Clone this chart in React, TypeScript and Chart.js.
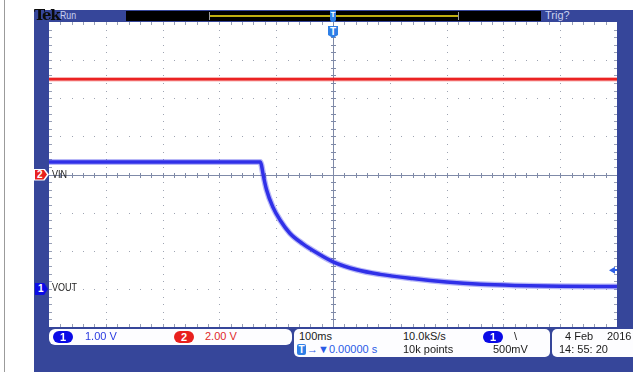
import React, { useEffect, useRef } from "react";
import { Chart, registerables } from "chart.js";

Chart.register(...registerables);

// ---- Data ----
// Channel 2 (VIN): 2.00 V/div, ground at centre line
const vinTimeMs = [-500, 500];
const vinVolts = [5.0, 5.0];
// Channel 1 (VOUT): 1.00 V/div, ground 3 div below centre
const voutTimeMs = [-500, -300, -128, -126, -123, -117, -106, -93, -76, -53, -28, 0, 42, 83, 140, 200, 260, 320, 400, 500];
const voutVolts = [3.33, 3.33, 3.33, 3.25, 3.0, 2.6, 2.15, 1.8, 1.46, 1.18, 0.94, 0.71, 0.5, 0.38, 0.27, 0.18, 0.12, 0.09, 0.07, 0.06];

const CH1_VOLTS_PER_DIV = 1.0;
const CH1_OFFSET_DIV = -3;
const CH2_VOLTS_PER_DIV = 2.0;
const CH2_OFFSET_DIV = 0;
const TRIGGER_LEVEL_V = 0.5;

const TIME_MIN = -500;
const TIME_MAX = 500;
const DIV_MIN = -4;
const DIV_MAX = 4;

// Status / readout texts
const topLeftLabel = "Run";
const topRightLabel = "Trig?";
const ch1Scale = "1.00 V";
const ch2Scale = "2.00 V";
const timeBase = "100ms";
const sampleRate = "10.0kS/s";
const recordLength = "10k points";
const triggerLevelText = "500mV";
const triggerPos = "0.00000 s";
const dateText = "4 Feb";
const yearText = "2016";
const clockText = "14: 55: 20";
const ch2Name = "VIN";
const ch1Name = "VOUT";

// ---- Layout ----
const PLOT_LEFT = 49;
const PLOT_TOP = 22;
const PLOT_W = 568;
const PLOT_H = 305;
const divToPx = (d: number) => PLOT_TOP + ((DIV_MAX - d) / (DIV_MAX - DIV_MIN)) * PLOT_H;

const FONT = '"Liberation Sans", Arial, sans-serif';
const FRAME = "#36469a";
const CH1 = "rgb(48,48,232)";
const CH2 = "rgb(236,34,34)";

const gridPlugin = {
  id: "scopeGrid",
  beforeDatasetsDraw(chart: any) {
    const { ctx, chartArea, scales } = chart;
    const { left, right, top, bottom } = chartArea;
    const x = scales.x;
    const y = scales.y;
    ctx.save();
    // dotted major lines
    ctx.fillStyle = "#9ea4b2";
    for (let i = -4; i <= 4; i++) {
      if (i === 0) continue;
      const px = Math.round(x.getPixelForValue(i * 100));
      for (let j = -20; j <= 20; j++) {
        const py = Math.round(y.getPixelForValue(j * 0.2));
        ctx.fillRect(px, py, 1, 1);
      }
    }
    for (let i = -3; i <= 3; i++) {
      if (i === 0) continue;
      const py = Math.round(y.getPixelForValue(i));
      for (let k = -25; k <= 25; k++) {
        const px = Math.round(x.getPixelForValue(k * 20));
        ctx.fillRect(px, py, 1, 1);
      }
    }
    // edge ticks
    ctx.fillStyle = "#98a0b6";
    for (let k = -24; k <= 24; k++) {
      const px = Math.round(x.getPixelForValue(k * 20));
      ctx.fillRect(px, top, 1, 3);
      ctx.fillRect(px, bottom - 3, 1, 3);
    }
    for (let j = -19; j <= 19; j++) {
      const py = Math.round(y.getPixelForValue(j * 0.2));
      ctx.fillRect(left, py, 3, 1);
      ctx.fillRect(right - 3, py, 3, 1);
    }
    // centre cross
    ctx.fillStyle = "#7f8aa8";
    const cy = Math.round(y.getPixelForValue(0));
    const cx = Math.round(x.getPixelForValue(0));
    ctx.fillRect(left, cy, right - left, 1);
    ctx.fillRect(cx, top, 1, bottom - top);
    for (let k = -24; k <= 24; k++) {
      const px = Math.round(x.getPixelForValue(k * 20));
      ctx.fillRect(px, cy - 2, 1, 5);
    }
    for (let j = -19; j <= 19; j++) {
      const py = Math.round(y.getPixelForValue(j * 0.2));
      ctx.fillRect(cx - 2, py, 5, 1);
    }
    ctx.restore();
  },
};

function Pill({ n, color, x, y }: { n: string; color: string; x: number; y: number }) {
  return (
    <div
      style={{
        position: "absolute", left: x, top: y, width: 20, height: 12, borderRadius: 6,
        background: color, color: "#fff", fontSize: 11, fontWeight: 700, lineHeight: "12px",
        textAlign: "center", fontFamily: FONT,
      }}
    >
      {n}
    </div>
  );
}

function Txt({ x, y, color = "#1a1a1a", children, size = 11, sx = 1 }: any) {
  return (
    <div
      style={{
        position: "absolute", left: x, top: y, fontSize: size, lineHeight: `${size + 2}px`,
        color, fontFamily: FONT, whiteSpace: "nowrap", transform: `scaleX(${sx})`, transformOrigin: "left center",
      }}
    >
      {children}
    </div>
  );
}

export default function App() {
  const canvasRef = useRef<HTMLCanvasElement | null>(null);

  useEffect(() => {
    document.body.style.margin = "0";
    const canvas = canvasRef.current;
    if (!canvas) return;
    const ch1Pts = voutTimeMs.map((t, i) => ({ x: t, y: voutVolts[i] / CH1_VOLTS_PER_DIV + CH1_OFFSET_DIV }));
    const ch2Pts = vinTimeMs.map((t, i) => ({ x: t, y: vinVolts[i] / CH2_VOLTS_PER_DIV + CH2_OFFSET_DIV }));
    const chart = new Chart(canvas, {
      type: "line",
      data: {
        datasets: [
          { data: ch2Pts, borderColor: "rgba(236,34,34,0.35)", borderWidth: 4.5, pointRadius: 0 },
          { data: ch2Pts, borderColor: CH2, borderWidth: 2.5, pointRadius: 0 },
          { data: ch1Pts, borderColor: "rgba(48,48,232,0.35)", borderWidth: 6, pointRadius: 0, cubicInterpolationMode: "monotone" },
          { data: ch1Pts, borderColor: CH1, borderWidth: 3.5, pointRadius: 0, cubicInterpolationMode: "monotone" },
        ],
      } as any,
      options: {
        animation: false,
        responsive: false,
        devicePixelRatio: 1,
        layout: { padding: 0 },
        plugins: { legend: { display: false }, tooltip: { enabled: false } },
        scales: {
          x: { type: "linear", min: TIME_MIN, max: TIME_MAX, display: false },
          y: { type: "linear", min: DIV_MIN, max: DIV_MAX, display: false },
        },
      },
      plugins: [gridPlugin],
    });
    return () => chart.destroy();
  }, []);

  const ch2Y = divToPx(CH2_OFFSET_DIV);
  const ch1Y = divToPx(CH1_OFFSET_DIV);
  const trigY = divToPx(TRIGGER_LEVEL_V / CH1_VOLTS_PER_DIV + CH1_OFFSET_DIV);
  const centreX = PLOT_LEFT + PLOT_W / 2;

  return (
    <div style={{ position: "absolute", left: 0, top: 0, width: 633, height: 372, background: "#fff", overflow: "hidden", fontFamily: FONT }}>
      <div style={{ position: "absolute", left: 4, top: 0, width: 1, height: 372, background: "#9b9b9b" }} />
      <div style={{ position: "absolute", left: 34, top: 10, width: 599, height: 362, background: FRAME }} />
      {/* top bar */}
      <Txt x={60} y={9} color="#c9d0f0" sx={0.8}>{topLeftLabel}</Txt>
      <div style={{ position: "absolute", left: 126, top: 11, width: 415, height: 10, background: "#000" }} />
      <div style={{ position: "absolute", left: 210, top: 15, width: 248, height: 2, background: "#bfae10" }} />
      <div style={{ position: "absolute", left: 209, top: 12, width: 1, height: 8, background: "#9a9a9a" }} />
      <div style={{ position: "absolute", left: 458, top: 12, width: 1, height: 8, background: "#9a9a9a" }} />
      <div style={{ position: "absolute", left: 330, top: 10, width: 6, height: 10, background: "#2f7fe6", color: "#fff", fontSize: 8, lineHeight: "10px", textAlign: "center", fontWeight: 700 }}>T</div>
      <div style={{ position: "absolute", left: 330, top: 20, width: 6, height: 4, background: "#2f7fe6", clipPath: "polygon(0 0,100% 0,50% 100%)" }} />
      <Txt x={545} y={9} color="#c9d0f0">{topRightLabel}</Txt>
      {/* plot */}
      <div style={{ position: "absolute", left: PLOT_LEFT, top: PLOT_TOP, width: PLOT_W, height: PLOT_H, background: "#fff" }}>
        <canvas ref={canvasRef} width={PLOT_W} height={PLOT_H} style={{ display: "block", width: PLOT_W, height: PLOT_H }} />
      </div>
      <div style={{ position: "absolute", left: 34, top: 6, zIndex: 2, fontFamily: '"DejaVu Serif", serif', fontWeight: 700, fontSize: 15, lineHeight: "18px", letterSpacing: -1.4, color: "#0b0b0b" }}>Tek</div>
      {/* trigger position marker */}
      <div style={{ position: "absolute", left: centreX - 5, top: 26, width: 10, height: 12, background: "#2f7fe6", clipPath: "polygon(0 0,100% 0,100% 75%,50% 100%,0 75%)", color: "#fff", fontSize: 10, lineHeight: "11px", textAlign: "center", fontWeight: 700 }}>T</div>
      {/* trigger level marker */}
      <div style={{ position: "absolute", left: 609, top: trigY - 3, width: 6, height: 7, background: "#2f60e6", clipPath: "polygon(0 50%,100% 0,100% 100%)" }} />
      <div style={{ position: "absolute", left: 613, top: trigY - 1, width: 4, height: 2, background: "#2f60e6" }} />
      {/* channel markers */}
      <div style={{ position: "absolute", left: 34, top: ch2Y - 6, width: 15, height: 12, background: "#fff", clipPath: "polygon(0 0,70% 0,100% 50%,70% 100%,0 100%)" }} />
      <div style={{ position: "absolute", left: 35, top: ch2Y - 5, width: 12, height: 10, background: "#e8201e", clipPath: "polygon(0 0,70% 0,100% 50%,70% 100%,0 100%)", color: "#fff", fontSize: 10, lineHeight: "10px", fontWeight: 700, paddingLeft: 2, boxSizing: "border-box" }}>2</div>
      <Txt x={52} y={ch2Y - 7} color="#222" sx={0.82}>{ch2Name}</Txt>
      <div style={{ position: "absolute", left: 35, top: ch1Y - 6, width: 13, height: 12, background: "#0c0ce6", clipPath: "polygon(0 0,70% 0,100% 50%,70% 100%,0 100%)", color: "#fff", fontSize: 10, lineHeight: "12px", fontWeight: 700, paddingLeft: 3, boxSizing: "border-box" }}>1</div>
      <Txt x={52} y={ch1Y - 8} color="#222" sx={0.82}>{ch1Name}</Txt>
      {/* readout boxes */}
      <div style={{ position: "absolute", left: 49, top: 329, width: 243, height: 16, background: "#fdfdff", borderRadius: 6 }} />
      <Pill n="1" color="#0a0ae6" x={53} y={331} />
      <Txt x={85} y={330} color="#2a3ae0">{ch1Scale}</Txt>
      <Pill n="2" color="#e8201e" x={174} y={331} />
      <Txt x={205} y={330} color="#e02828">{ch2Scale}</Txt>

      <div style={{ position: "absolute", left: 294, top: 329, width: 256, height: 28, background: "#fdfdff", borderRadius: 5 }} />
      <Txt x={299} y={330}>{timeBase}</Txt>
      <Txt x={403} y={330}>{sampleRate}</Txt>
      <Pill n="1" color="#0a0ae6" x={483} y={331} />
      <Txt x={514} y={330}>\</Txt>
      <div style={{ position: "absolute", left: 297, top: 344, width: 9, height: 11, background: "#2f7fe6", borderRadius: 2, color: "#fff", fontSize: 10, lineHeight: "11px", textAlign: "center", fontWeight: 700 }}>T</div>
      <Txt x={307} y={343} color="#2a5ae6">{"\u2192\u25BC" + triggerPos}</Txt>
      <Txt x={403} y={343}>{recordLength}</Txt>
      <Txt x={493} y={343}>{triggerLevelText}</Txt>

      <div style={{ position: "absolute", left: 552, top: 329, width: 90, height: 28, background: "#fdfdff", borderRadius: 5 }} />
      <Txt x={565} y={330}>{dateText}</Txt>
      <Txt x={607} y={330}>{yearText}</Txt>
      <Txt x={559} y={343}>{clockText}</Txt>
    </div>
  );
}
